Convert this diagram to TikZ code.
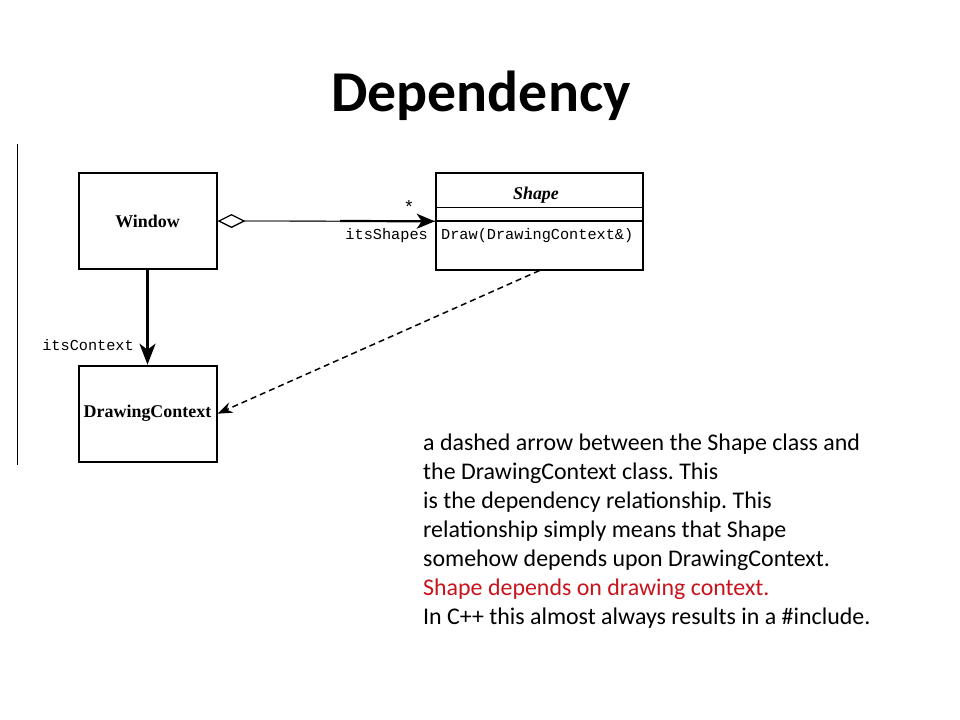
\documentclass[tikz,border=0pt]{standalone}
\usepackage{fontspec}
\setmainfont{Carlito}
\newfontfamily\umlserif{Liberation Serif}
\newfontfamily\umlmono{Liberation Mono}
\usetikzlibrary{arrows.meta}
\definecolor{notered}{RGB}{200,20,28}
\frenchspacing
\begin{document}
\begin{tikzpicture}[x=1bp,y=-1bp,
  classbox/.style={draw,line width=2bp,inner sep=0pt,minimum width=138bp,minimum height=96bp,
     font=\umlserif\bfseries\fontsize{18}{21}\selectfont},
  monolabel/.style={inner sep=0pt,font=\umlmono\fontsize{15.3}{18}\selectfont},
]
\useasboundingbox[fill=white] (0,0) rectangle (960,720);
% title
\node[anchor=base,inner sep=0pt,font=\bfseries\fontsize{58}{70}\selectfont] (title) at (481,112) {Dependency};
% left rule
\coordinate (ruletop) at (17.3,144);
\coordinate (rulebot) at (17.3,465);
\draw[line width=1.5bp] (ruletop) -- (rulebot);
% classes
\node[classbox] (window) at (147.5,221) {Window};
\node[classbox] (dc) at (147.5,413.7) {DrawingContext};
\node[draw,line width=2bp,inner sep=0pt,minimum width=207.5bp,minimum height=96.5bp] (shape) at (539.5,221.3) {};
\draw[line width=1.5bp] (436,207.5) -- (643,207.5);
\draw[line width=1.5bp] (436,221) -- (643,221);
\node[inner sep=0pt,font=\umlserif\bfseries\itshape\fontsize{18}{21}\selectfont] (shapename) at (536,195) {Shape};
\node[monolabel,anchor=west] (op) at (441,236) {Draw(DrawingContext\&)};
% aggregation
\draw[line width=1.3bp,black!75,{Diamond[open,fill=white,length=28bp,width=14bp,line width=1.3bp,black]}-] (window.east) -- (shape.west);
\coordinate (thickstart) at (340,221);
\draw[line width=2.2bp,-{Stealth[length=18bp,width=15bp,inset=5bp]}] (thickstart) -- (shape.west);
\node[monolabel,font=\umlmono\fontsize{18}{20}\selectfont] (mult) at (409,207) {*};
\node[monolabel,anchor=east] (roleshapes) at (428,236) {itsShapes};
% composition to DrawingContext
\draw[line width=3bp,-{Stealth[length=21bp,width=16bp,inset=6bp]}] (window.south) -- (dc.north);
\node[monolabel,anchor=east] (rolecontext) at (134,345.5) {itsContext};
% dependency
\draw[line width=1.5bp,dash pattern=on 6bp off 4bp,-{Stealth[length=15bp,width=11bp,inset=5bp]}] (shape.south) -- (dc.east);
% note text
\node[anchor=north west,inner sep=0pt,align=left,font=\fontsize{24}{29}\selectfont] (note) at (423,434)
 {a dashed arrow between the Shape class and\\
  the DrawingContext class. This\\
  is the dependency relationship. This\\
  relationship simply means that Shape\\
  somehow depends upon DrawingContext.\\
  \textcolor{notered}{Shape depends on drawing context.}\\
  In C++ this almost always results in a \#include.};
\end{tikzpicture}
\end{document}
